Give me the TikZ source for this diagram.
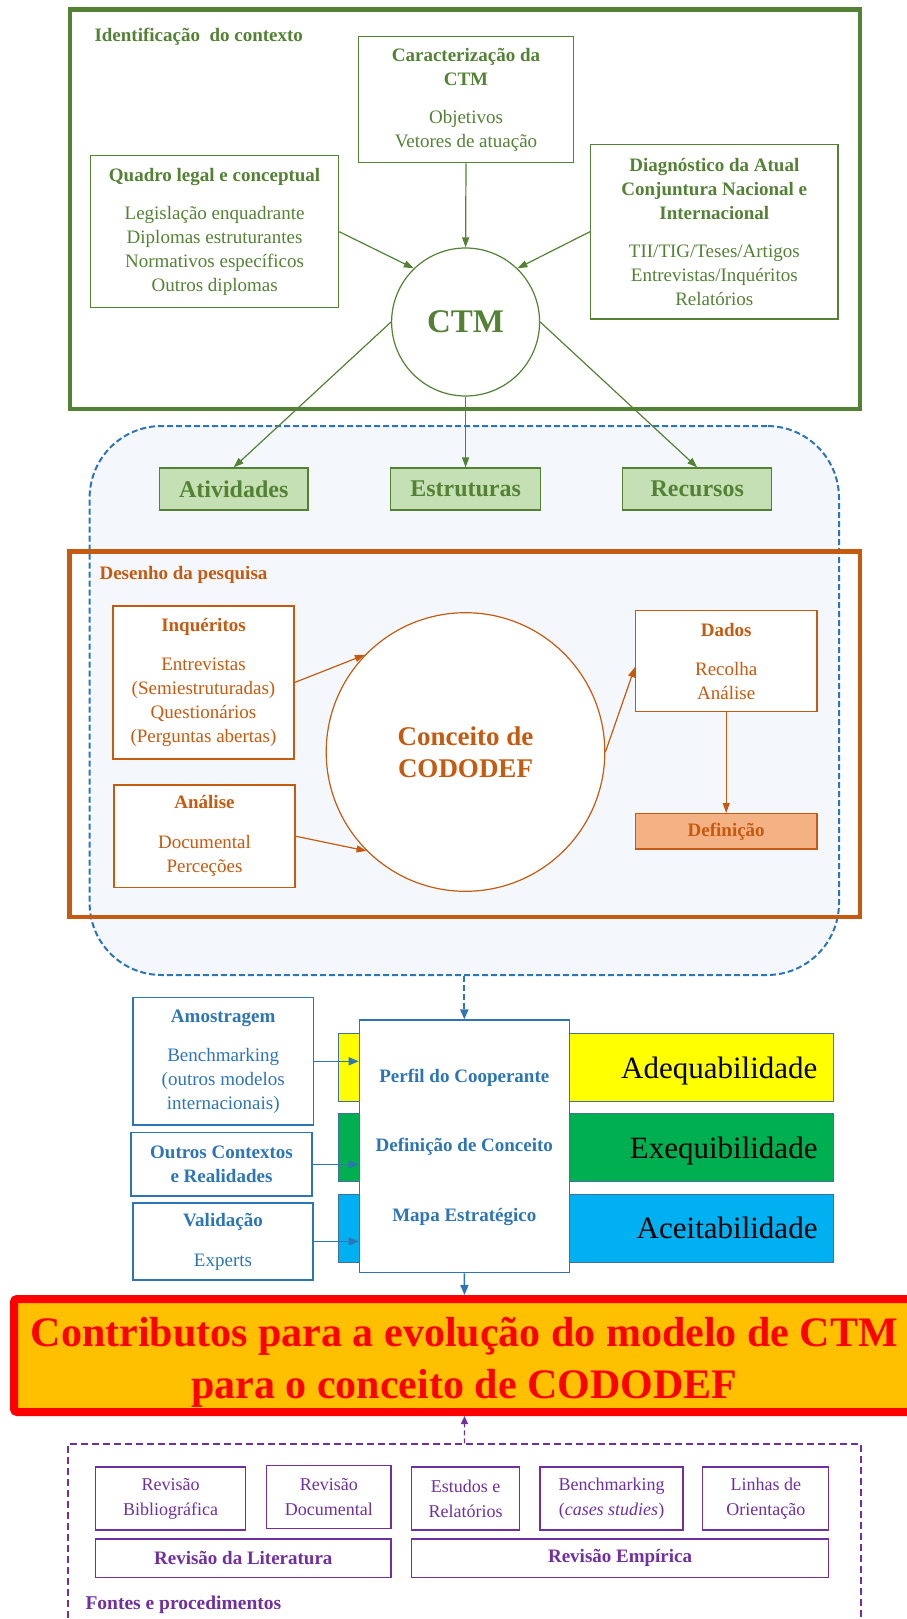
\documentclass[tikz,border=0pt]{standalone}
\usepackage{fontspec}
\setmainfont{Liberation Serif}
\usetikzlibrary{arrows.meta,calc}
\definecolor{cgreen}{HTML}{548235}
\definecolor{cgreenfill}{HTML}{C5E0B4}
\definecolor{corange}{HTML}{C55A11}
\definecolor{corangefill}{HTML}{F4B183}
\definecolor{cblue}{HTML}{2E75B6}
\definecolor{cbluebg}{RGB}{244,248,252}
\definecolor{cpurple}{HTML}{7030A0}
\definecolor{cyellow}{HTML}{FFFF00}
\definecolor{cbandgreen}{HTML}{00B050}
\definecolor{cbandblue}{HTML}{00B0F0}
\definecolor{cband}{HTML}{41719C}
\definecolor{cred}{HTML}{FF0000}
\definecolor{cgold}{HTML}{FFC000}
\begin{document}
\begin{tikzpicture}[x=1pt,y=-1pt,
  fs/.style={font=\fontsize{19}{24}\selectfont},
  fsb/.style={font=\fontsize{19}{24}\selectfont\bfseries},
  gbox/.style={draw=cgreen, line width=1.2pt, fill=white, text=cgreen, align=center, fs},
  gfill/.style={draw=cgreen, line width=1.2pt, fill=cgreenfill, text=cgreen, align=center,
     font=\fontsize{24}{28}\selectfont\bfseries},
  obox/.style={draw=corange, line width=1.2pt, fill=white, text=corange, align=center, fs},
  bluebox/.style={draw=cblue, line width=1.2pt, fill=white, text=cblue, align=center, fs},
  pbox/.style={draw=cpurple, line width=1.2pt, fill=white, text=cpurple, align=center,
     font=\fontsize{18}{25}\selectfont},
  band/.style={draw=cband, line width=1pt, minimum width=495.5pt, minimum height=68pt},
  bandtext/.style={anchor=base east, font=\fontsize{31}{36}\selectfont, text=black},
  garrow/.style={draw=cgreen, line width=1.2pt, -{Triangle[length=10pt,width=7pt]}},
  oarrow/.style={draw=corange, line width=1.2pt, -{Triangle[length=10pt,width=7pt]}},
  barrow/.style={draw=cblue, line width=1.4pt, -{Triangle[length=10pt,width=8pt]}},
]
\useasboundingbox (0,0) rectangle (907,1619);
\fill[white] (0,0) rectangle (907,1619);

% blue dashed background
\node[draw=cblue, fill=cbluebg, line width=2pt, dash pattern=on 6pt off 3pt,
      rounded corners=72pt, minimum width=749.4pt, minimum height=549pt] (bluebg) at (464.3,700.5) {};

% ---------- green section ----------
\draw[cgreen, line width=4.5pt] (70,9.5) rectangle (860,409);
\node[anchor=west, text=cgreen, fsb] (gtitle) at (91,37) {Identificação~ do contexto};

\node[gbox, minimum width=215pt, minimum height=126pt] (carac) at (466,99.7)
  {\textbf{Caracterização da}\\\textbf{CTM}\\[14pt]Objetivos\\Vetores de atuação};
\node[gbox, minimum width=248pt, minimum height=152pt] (quadro) at (214.6,231.7)
  {\textbf{Quadro legal e conceptual}\\[14pt]Legislação enquadrante\\Diplomas estruturantes\\Normativos específicos\\Outros diplomas};
\node[gbox, minimum width=247.4pt, minimum height=174.7pt] (diag) at (714.3,231.7)
  {\textbf{Diagnóstico da Atual}\\\textbf{Conjuntura Nacional e}\\\textbf{Internacional}\\[14pt]TII/TIG/Teses/Artigos\\Entrevistas/Inquéritos\\Relatórios};
\node[circle, draw=cgreen, line width=1.2pt, fill=white, minimum size=148pt, inner sep=0pt,
      text=cgreen, font=\fontsize{33}{36}\selectfont\bfseries] (ctm) at (465.6,322) {CTM};

\draw[garrow] (carac.south) -- (ctm.north);
\draw[garrow] (quadro.east) -- (ctm.134);
\draw[garrow] (diag.west) -- (ctm.46);

\node[gfill, minimum width=148.5pt, minimum height=42pt] (ativ) at (233.7,489) {Atividades};
\node[gfill, minimum width=150pt, minimum height=42pt] (estr) at (465.6,489) {Estruturas};
\node[gfill, minimum width=149pt, minimum height=42pt] (recu) at (697.2,489) {Recursos};

\draw[garrow] (ctm.west) -- (ativ.north);
\draw[garrow] (ctm.south) -- (estr.north);
\draw[garrow] (ctm.east) -- (recu.north);

% ---------- orange section ----------
\draw[corange, line width=4.5pt] (69.5,551.5) rectangle (860,917);
\node[anchor=west, text=corange, fsb] (otitle) at (96,575) {Desenho da pesquisa};

\node[obox, minimum width=181pt, minimum height=153pt] (inq) at (203.5,682.5)
  {\textbf{Inquéritos}\\[15pt]Entrevistas\\(Semiestruturadas)\\Questionários\\(Perguntas abertas)};
\node[obox, minimum width=181pt, minimum height=102.5pt] (anal) at (204.5,836.2)
  {\textbf{Análise}\\[16pt]Documental\\Perceções};
\node[circle, draw=corange, line width=1.2pt, fill=white, minimum size=278.6pt, inner sep=0pt,
      text=corange, align=center, font=\fontsize{27}{32}\selectfont\bfseries] (conc) at (465.5,752)
  {Conceito de\\CODODEF};
\node[obox, minimum width=181.5pt, minimum height=101pt] (dados) at (726.2,661.2)
  {\textbf{Dados}\\[15pt]Recolha\\Análise};
\node[draw=corange, line width=1.2pt, fill=corangefill, text=corange, fsb,
      minimum width=181.5pt, minimum height=35.4pt] (defi) at (726.2,831.3) {Definição};

\draw[oarrow] (inq.east) -- (conc.136);
\draw[oarrow] (anal.east) -- (conc.225);
\draw[oarrow] (conc.east) -- ([yshift=-6pt]dados.west);
\draw[oarrow] (dados.south) -- (defi.north);

% ---------- blue section ----------
\node[band, fill=cyellow] (band1) at (586,1067) {};
\node[band, fill=cbandgreen] (band2) at (586,1147) {};
\node[band, fill=cbandblue] (band3) at (586,1228) {};
\node[bandtext] (adeq) at (821,1078) {Adequabilidade};
\node[bandtext] (exeq) at (821,1158) {Exequibilidade};
\node[bandtext] (acei) at (821,1238) {Aceitabilidade};

\node[bluebox, minimum width=210pt, minimum height=252.7pt] (perfil) at (464.3,1146.3) {};
\node[text=cblue, fsb] (t1) at (464.3,1078) {Perfil do Cooperante};
\node[text=cblue, fsb] (t2) at (464.3,1147) {Definição de Conceito};
\node[text=cblue, fsb] (t3) at (464.3,1217) {Mapa Estratégico};

\node[bluebox, minimum width=180.5pt, minimum height=127.3pt] (amos) at (223.2,1061.3)
  {\textbf{Amostragem}\\[15pt]Benchmarking\\(outros modelos\\internacionais)};
\node[bluebox, minimum width=181pt, minimum height=63.3pt] (outr) at (221.5,1164.3)
  {\textbf{Outros Contextos}\\\textbf{e Realidades}};
\node[bluebox, minimum width=180pt, minimum height=77pt] (vali) at (223,1241.5)
  {\textbf{Validação}\\[16pt]Experts};

\draw[barrow] (amos.east) -- (amos.east -| perfil.west);
\draw[barrow] (outr.east) -- (outr.east -| perfil.west);
\draw[barrow] (vali.east) -- (vali.east -| perfil.west);
\draw[barrow, line width=2pt, dash pattern=on 6pt off 3pt] (bluebg.south) -- (perfil.north);

% ---------- red box ----------
\node[draw=cred, line width=8pt, fill=cgold, rounded corners=3pt, minimum width=901pt, minimum height=113pt] (red) at (464.5,1355.5) {};
\node[text=cred, align=center, font=\fontsize{42}{52}\selectfont\bfseries] (redtext) at (464.3,1362)
  {Contributos para a evolução do modelo de CTM\\para o conceito de CODODEF};
\draw[barrow] (perfil.south) -- (red.north);

% ---------- purple section ----------
\node[draw=cpurple, line width=1.3pt, dash pattern=on 7pt off 4pt, minimum width=793pt, minimum height=216pt]
  (pframe) at (464.4,1552) {};
\draw[draw=cpurple, line width=1.3pt, dash pattern=on 5pt off 3pt, -{Triangle[length=8pt,width=7pt]}]
  (pframe.north) -- (red.south);

\node[pbox, minimum width=150pt, minimum height=63pt] (rb) at (170.6,1498.5) {Revisão\\Bibliográfica};
\node[pbox, minimum width=124.4pt, minimum height=63pt] (rd) at (328.8,1497) {Revisão\\Documental};
\node[pbox, minimum width=108.2pt, minimum height=63pt] (er) at (465.6,1498.5) {Estudos e\\Relatórios};
\node[pbox, minimum width=143pt, minimum height=63pt] (bm) at (611.5,1498.5) {Benchmarking\\(\textit{cases studies})};
\node[pbox, minimum width=126pt, minimum height=63pt] (lo) at (765.8,1498.5) {Linhas de\\Orientação};
\node[pbox, fsb, minimum width=295.4pt, minimum height=38.7pt] (rl) at (243.3,1558.3) {Revisão da Literatura};
\node[pbox, fsb, minimum width=417.3pt, minimum height=38.7pt] (re) at (620.1,1558.3) {Revisão Empírica};
\node[anchor=west, text=cpurple, font=\fontsize{19.5}{24}\selectfont\bfseries] (ptitle) at (82,1605) {Fontes e procedimentos};
\end{tikzpicture}
\end{document}
